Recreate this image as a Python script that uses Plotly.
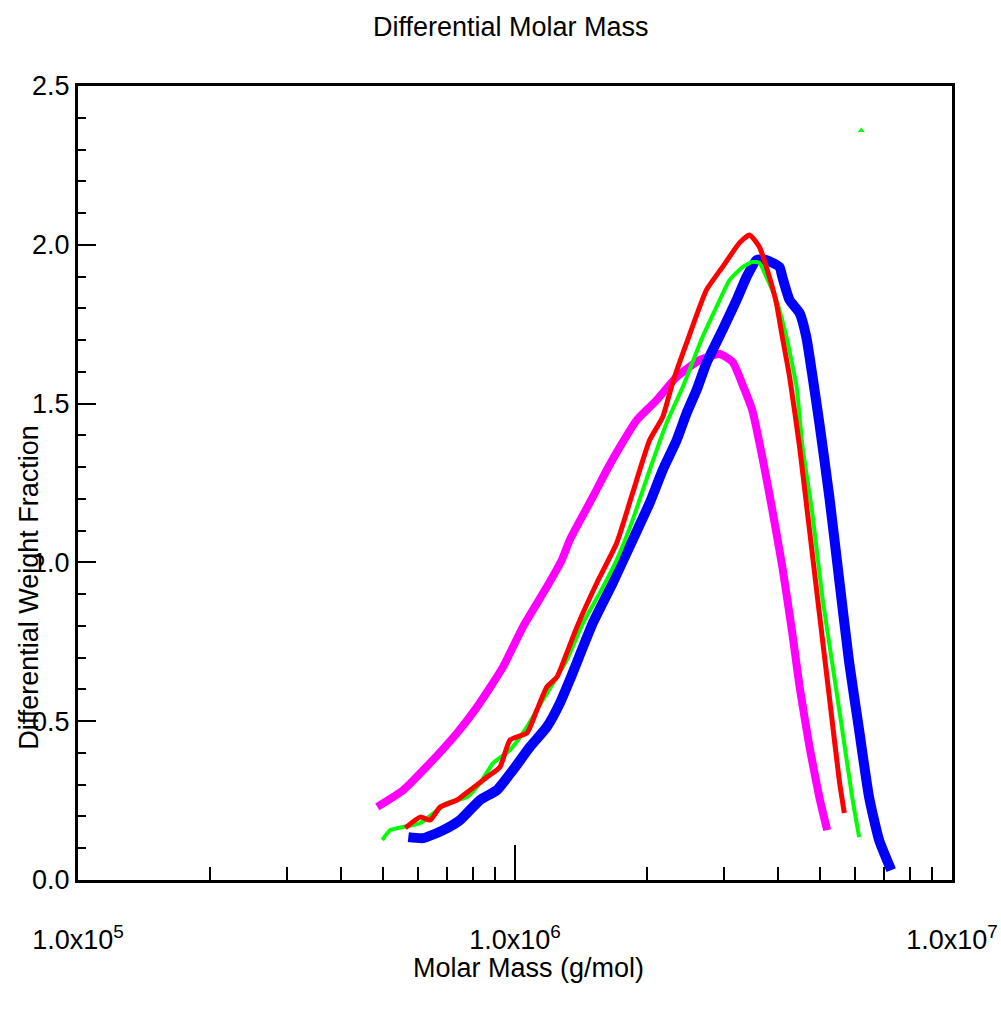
import plotly.graph_objects as go

# ---- data ----
magenta_m = [4.84e5, 5.55e5, 6.17e5, 7.37e5, 8.19e5, 9.39e5, 1.043e6, 1.183e6, 1.280e6, 1.335e6,
             1.507e6, 1.622e6, 1.737e6, 1.899e6, 2.109e6, 2.344e6, 2.644e6, 2.94e6, 3.147e6, 3.318e6,
             3.49e6, 3.68e6, 3.88e6, 4.09e6, 4.31e6, 4.48e6, 4.72e6, 4.97e6, 5.18e6]
magenta_w = [0.230, 0.283, 0.346, 0.463, 0.545, 0.671, 0.797, 0.923, 1.008, 1.071,
             1.206, 1.291, 1.363, 1.448, 1.511, 1.584, 1.637, 1.656, 1.631, 1.559,
             1.480, 1.332, 1.165, 0.986, 0.778, 0.608, 0.419, 0.261, 0.157]

green_m = [4.97e5, 5.18e5, 5.55e5, 6.07e5, 6.99e5, 7.77e5, 8.32e5, 8.91e5, 9.74e5, 1.065e6,
           1.158e6, 1.247e6, 1.314e6, 1.43e6, 1.563e6, 1.709e6, 1.859e6, 2.033e6, 2.223e6, 2.42e6,
           2.687e6, 2.89e6, 3.097e6, 3.318e6, 3.49e6, 3.625e6, 3.76e6, 3.963e6, 4.18e6, 4.41e6,
           4.55e6, 4.79e6, 5.05e6, 5.32e6, 5.61e6, 5.91e6, 6.13e6]
green_w = [0.126, 0.157, 0.167, 0.179, 0.242, 0.261, 0.305, 0.368, 0.409, 0.482,
           0.567, 0.639, 0.693, 0.809, 0.904, 1.008, 1.134, 1.291, 1.439, 1.552,
           1.710, 1.804, 1.889, 1.930, 1.946, 1.943, 1.899, 1.826, 1.710, 1.552,
           1.363, 1.156, 0.891, 0.683, 0.472, 0.261, 0.135]
green_spike_m = [6.2e6]
green_spike_w = [2.36]

red_m = [5.61e5, 6.07e5, 6.40e5, 6.74e5, 7.37e5, 7.89e5, 8.63e5, 9.24e5, 9.74e5, 1.065e6,
         1.122e6, 1.183e6, 1.247e6, 1.314e6, 1.386e6, 1.539e6, 1.709e6, 1.859e6, 2.033e6, 2.178e6,
         2.294e6, 2.47e6, 2.743e6, 2.985e6, 3.263e6, 3.44e6, 3.625e6, 3.82e6, 3.963e6, 4.09e6,
         4.25e6, 4.48e6, 4.72e6, 4.97e6, 5.24e6, 5.52e6, 5.67e6]
red_w = [0.164, 0.198, 0.189, 0.230, 0.252, 0.283, 0.324, 0.356, 0.441, 0.463,
         0.535, 0.608, 0.639, 0.715, 0.797, 0.935, 1.061, 1.219, 1.385, 1.458,
         1.565, 1.691, 1.858, 1.930, 2.006, 2.031, 1.993, 1.899, 1.817, 1.710,
         1.584, 1.363, 1.102, 0.841, 0.576, 0.315, 0.211]

blue_m = [5.70e5, 6.17e5, 6.85e5, 7.49e5, 8.32e5, 9.09e5, 9.89e5, 1.082e6, 1.183e6, 1.267e6,
          1.335e6, 1.507e6, 1.673e6, 1.859e6, 2.033e6, 2.178e6, 2.344e6, 2.47e6, 2.604e6, 2.743e6,
          2.985e6, 3.213e6, 3.388e6, 3.57e6, 3.76e6, 4.03e6, 4.09e6, 4.25e6, 4.48e6, 4.64e6,
          4.79e6, 4.97e6, 5.24e6, 5.52e6, 5.82e6, 6.13e6, 6.46e6, 6.81e6, 7.26e6]
blue_w = [0.135, 0.132, 0.157, 0.189, 0.252, 0.283, 0.346, 0.419, 0.482, 0.557,
          0.630, 0.809, 0.935, 1.071, 1.187, 1.291, 1.385, 1.470, 1.543, 1.628,
          1.732, 1.826, 1.899, 1.952, 1.952, 1.930, 1.899, 1.826, 1.785, 1.710,
          1.590, 1.440, 1.206, 0.945, 0.683, 0.472, 0.261, 0.126, 0.031]

x_major = [1e5, 1e6, 1e7]
x_major_text = ["1.0x10<sup>5</sup>", "1.0x10<sup>6</sup>", "1.0x10<sup>7</sup>"]
x_minor = [2e5, 3e5, 4e5, 5e5, 6e5, 7e5, 8e5, 9e5, 2e6, 3e6, 4e6, 5e6, 6e6, 7e6, 8e6, 9e6]
y_major = [0.0, 0.5, 1.0, 1.5, 2.0, 2.5]
y_major_text = ["0.0", "0.5", "1.0", "1.5", "2.0", "2.5"]

FONT = "Liberation Sans Narrow, Arial Narrow, Liberation Sans, Arial, sans-serif"
FS = 27

fig = go.Figure()
line_shape = dict(shape="spline", smoothing=0.5)
fig.add_trace(go.Scatter(x=magenta_m, y=magenta_w, mode="lines",
                         line=dict(color="#FF00FF", width=8, **line_shape), showlegend=False))
fig.add_trace(go.Scatter(x=blue_m, y=blue_w, mode="lines",
                         line=dict(color="#0000FF", width=10, **line_shape), showlegend=False))
fig.add_trace(go.Scatter(x=green_m, y=green_w, mode="lines",
                         line=dict(color="#00FF00", width=4, **line_shape), showlegend=False))
fig.add_trace(go.Scatter(x=green_spike_m, y=green_spike_w, mode="markers",
                         marker=dict(color="#00FF00", size=6, symbol="triangle-up"), showlegend=False))
fig.add_trace(go.Scatter(x=red_m, y=red_w, mode="lines",
                         line=dict(color="#FF0000", width=5, **line_shape), showlegend=False))

fig.update_layout(
    width=1001, height=1019,
    margin=dict(l=78, r=49, t=86, b=139),
    paper_bgcolor="white", plot_bgcolor="white",
    font=dict(family=FONT, size=FS, color="black"),
    annotations=[
        dict(text="Differential Molar Mass", xref="paper", yref="paper",
             x=0.495, y=1.0743, xanchor="center", yanchor="middle", showarrow=False,
             font=dict(family=FONT, size=FS, color="black")),
        dict(text="Molar Mass (g/mol)", xref="paper", yref="paper",
             x=0.516, y=-0.1108, xanchor="center", yanchor="middle", showarrow=False,
             font=dict(family=FONT, size=FS, color="black")),
        dict(text="Differential Weight Fraction", xref="paper", yref="paper",
             x=-0.056, y=0.368, xanchor="center", yanchor="middle", showarrow=False,
             textangle=-90, font=dict(family=FONT, size=FS, color="black")),
    ],
)

fig.update_xaxes(
    type="log", range=[5, 7], showgrid=False, zeroline=False, automargin=False,
    showline=True, linecolor="black", linewidth=3, mirror=True,
    tickmode="array", tickvals=x_major, ticktext=x_major_text,
    ticks="inside", ticklen=35, tickwidth=2, tickcolor="black",
    ticklabelstandoff=34, ticklabeloverflow="allow",
    tickfont=dict(family=FONT, size=FS, color="black"),
    minor=dict(tickmode="array", tickvals=x_minor, ticks="inside",
               ticklen=13, tickwidth=2, tickcolor="black", showgrid=False),
)
fig.update_yaxes(
    range=[0, 2.5], showgrid=False, zeroline=False, automargin=False,
    showline=True, linecolor="black", linewidth=3, mirror=True,
    tickmode="array", tickvals=y_major, ticktext=y_major_text,
    ticks="inside", ticklen=18, tickwidth=2, tickcolor="black",
    ticklabelstandoff=0,
    tickfont=dict(family=FONT, size=FS, color="black"),
    minor=dict(dtick=0.1, ticks="inside", ticklen=8, tickwidth=2,
               tickcolor="black", showgrid=False),
)

fig.write_html("out.html")
